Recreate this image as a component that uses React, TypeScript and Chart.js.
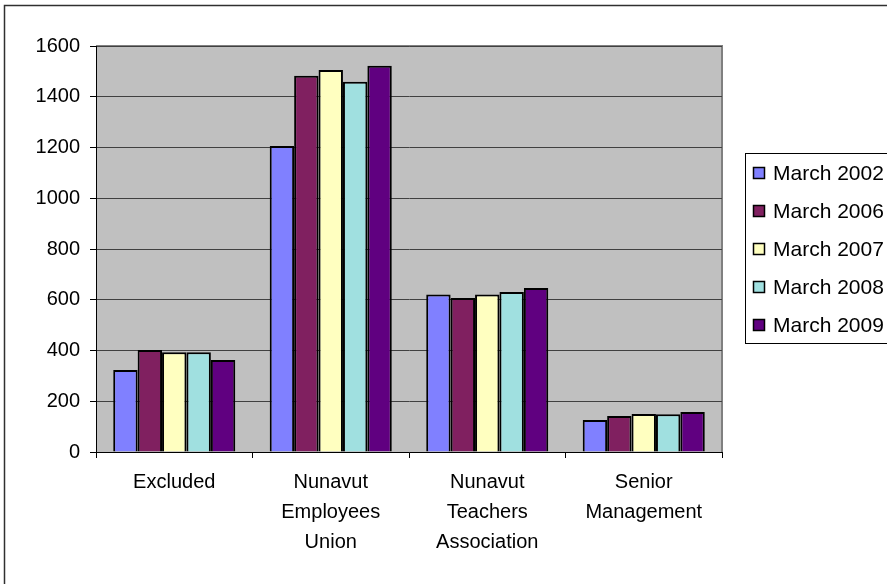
import React, { useEffect, useRef } from "react";
import { Chart, registerables } from "chart.js";

Chart.register(...registerables);

const categories: string[][] = [
  ["Excluded"],
  ["Nunavut", "Employees", "Union"],
  ["Nunavut", "Teachers", "Association"],
  ["Senior", "Management"],
];

const seriesLabels = ["March 2002", "March 2006", "March 2007", "March 2008", "March 2009"];
const march2002 = [323, 1206, 621, 126];
const march2006 = [402, 1483, 607, 142];
const march2007 = [393, 1505, 621, 150];
const march2008 = [393, 1459, 631, 149];
const march2009 = [363, 1522, 646, 158];
const seriesValues = [march2002, march2006, march2007, march2008, march2009];
const seriesColors = ["#8080FF", "#802060", "#FFFFC0", "#A0E0E0", "#600080"];
const yTicks = [0, 200, 400, 600, 800, 1000, 1200, 1400, 1600];

const FONT = "'Liberation Sans', Arial, sans-serif";

const framePlugin = {
  id: "frame",
  beforeDraw(chart: any) {
    const { ctx, chartArea } = chart;
    ctx.save();
    ctx.fillStyle = "#FFFFFF";
    ctx.fillRect(0, 0, chart.width, chart.height);
    ctx.fillStyle = "#C0C0C0";
    ctx.fillRect(chartArea.left, chartArea.top, chartArea.right - chartArea.left, chartArea.bottom - chartArea.top);
    ctx.strokeStyle = "#808080";
    ctx.lineWidth = 2;
    ctx.beginPath();
    ctx.moveTo(chartArea.left, chartArea.top);
    ctx.lineTo(chartArea.right, chartArea.top);
    ctx.lineTo(chartArea.right, chartArea.bottom);
    ctx.stroke();
    // outer frame
    ctx.strokeStyle = "#303030";
    ctx.lineWidth = 1.5;
    ctx.strokeRect(4.5, 5.5, 1000, 1000);
    ctx.restore();
  },
  afterDraw(chart: any) {
    const { ctx } = chart;
    ctx.save();
    const lx = 745.5;
    const ly = 153.5;
    ctx.strokeStyle = "#000000";
    ctx.lineWidth = 1;
    ctx.strokeRect(lx, ly, 300, 190);
    ctx.font = `21px ${FONT}`;
    ctx.textBaseline = "middle";
    ctx.textAlign = "left";
    chart.data.datasets.forEach((ds: any, i: number) => {
      const cy = 173 + i * 38;
      ctx.fillStyle = ds.backgroundColor;
      ctx.fillRect(753, cy - 6, 11, 11);
      ctx.strokeStyle = "#000000";
      ctx.lineWidth = 1.5;
      ctx.strokeRect(753.5, cy - 5.5, 11, 11);
      ctx.fillStyle = "#000000";
      ctx.fillText(ds.label, 773, cy + 1);
    });
    ctx.restore();
  },
};

export default function App() {
  const ref = useRef<HTMLCanvasElement>(null);
  useEffect(() => {
    if (!ref.current) return;
    const chart = new Chart(ref.current, {
      type: "bar",
      data: {
        labels: categories as any,
        datasets: seriesLabels.map((label, i) => ({
          label,
          data: seriesValues[i],
          backgroundColor: seriesColors[i],
          borderColor: "#000000",
          borderWidth: 2,
          categoryPercentage: 0.78,
          barPercentage: 1,
        })),
      },
      options: {
        animation: false,
        responsive: false,
        maintainAspectRatio: false,
        layout: { padding: { top: 46, right: 165, left: 0, bottom: 0 } },
        plugins: { legend: { display: false }, tooltip: { enabled: false }, title: { display: false } },
        scales: {
          x: {
            grid: {
              offset: true,
              drawOnChartArea: false,
              drawTicks: true,
              tickLength: 6,
              color: "#000000",
            },
            border: { color: "#000000", width: 1 },
            ticks: {
              color: "#000000",
              font: { family: FONT, size: 20, lineHeight: 1.5 },
              padding: 9,
              maxRotation: 0,
              autoSkip: false,
            },
            afterFit(scale: any) {
              scale.height = 132;
            },
          },
          y: {
            min: 0,
            max: 1600,
            afterBuildTicks(scale: any) {
              scale.ticks = yTicks.map((v) => ({ value: v }));
            },
            grid: {
              color: "#404040",
              lineWidth: 1,
              drawTicks: true,
              tickLength: 6,
              tickColor: "#000000",
            },
            border: { color: "#000000", width: 1 },
            ticks: {
              color: "#000000",
              font: { family: FONT, size: 20 },
              padding: 10,
              callback: (v: any) => String(v),
            },
            afterFit(scale: any) {
              scale.width = 96;
            },
          },
        },
      },
      plugins: [framePlugin],
    });
    return () => chart.destroy();
  }, []);
  return (
    <div style={{ position: "fixed", left: 0, top: 0, width: 887, height: 584, background: "#fff" }}>
      <canvas ref={ref} width={887} height={584} style={{ display: "block", width: 887, height: 584 }} />
    </div>
  );
}
